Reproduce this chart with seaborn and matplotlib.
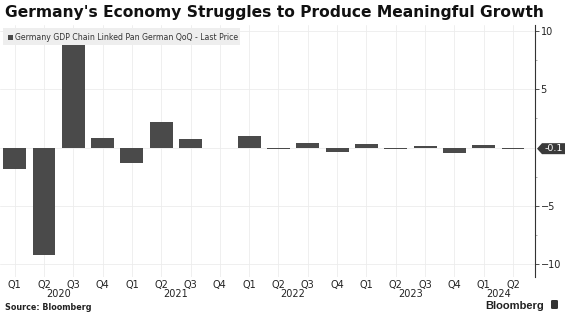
import matplotlib
matplotlib.use("Agg")
import matplotlib.pyplot as plt
import matplotlib.transforms as mtransforms
from matplotlib.patches import FancyBboxPatch, Rectangle, Polygon
import seaborn as sns
import pandas as pd

# Quarterly German GDP growth, chain linked, % QoQ
quarters = ["Q1", "Q2", "Q3", "Q4", "Q1", "Q2", "Q3", "Q4", "Q1", "Q2", "Q3", "Q4",
            "Q1", "Q2", "Q3", "Q4", "Q1", "Q2"]
years = [2020] * 4 + [2021] * 4 + [2022] * 4 + [2023] * 4 + [2024] * 2
gdp_qoq = [-1.8, -9.2, 8.9, 0.8, -1.3, 2.2, 0.7, 0.0, 1.0, -0.1, 0.4, -0.4,
           0.3, -0.1, 0.1, -0.5, 0.2, -0.1]
y_ticks = [-10, -5, 5, 10]
last_value = gdp_qoq[-1]

BAR = "#4a4a4a"
TEXT = "#222222"

df = pd.DataFrame({
    "period": [f"{y}{q}" for y, q in zip(years, quarters)],
    "gdp": gdp_qoq,
})

sns.set_theme(style="white")
plt.rcParams["font.family"] = ["DejaVu Sans"]

W, H = 566, 323
fig = plt.figure(figsize=(W / 100, H / 100), dpi=100)
ax = fig.add_axes([0.0, 1 - 277 / H, 535 / W, (277 - 25) / H])

sns.barplot(data=df, x="period", y="gdp", color=BAR, width=0.78,
            saturation=1, linewidth=0, ax=ax, zorder=3)

ax.set_xlim(-0.5, len(df) - 0.25)
ax.set_ylim(-11.1, 10.5)

# grid
for x in range(len(df)):
    ax.axvline(x, color="#ececec", lw=0.6, zorder=0)
for y in [-10, -5, 0, 5, 10]:
    ax.axhline(y, color="#ececec", lw=0.6, zorder=0)

# spines / ticks
for s in ["left", "top", "bottom"]:
    ax.spines[s].set_visible(False)
ax.spines["right"].set_color("#333333")
ax.spines["right"].set_linewidth(0.8)
ax.yaxis.tick_right()
ax.set_yticks(y_ticks)
ax.set_yticks([-7.5, -2.5, 2.5, 7.5], minor=True)
ax.tick_params(axis="y", which="major", direction="out", length=3, width=0.6,
               color="#333333", labelsize=7, labelcolor=TEXT, pad=1)
ax.tick_params(axis="y", which="minor", direction="out", length=1.5, width=0.5,
               color="#888888")
ax.set_xticks(range(len(df)))
ax.set_xticklabels(quarters)
ax.tick_params(axis="x", length=0, labelsize=7, labelcolor=TEXT, pad=2)
ax.set_xlabel("")
ax.set_ylabel("")

# year labels under the quarters
trans = mtransforms.blended_transform_factory(ax.transData, ax.transAxes)
for yr in sorted(set(years)):
    idx = [i for i, v in enumerate(years) if v == yr]
    ax.text(sum(idx) / len(idx), -17 / 252, str(yr), transform=trans,
            ha="center", va="center", fontsize=7, color=TEXT)

# last value badge on the axis
y_pix = ax.transData.transform((0, last_value))[1]
yc = y_pix / H
x0, x1 = 537 / W, 565 / W
hh = 5.5 / H
tip = 5 / W
fig.patches.append(Polygon([(x0, yc), (x0 + tip, yc + hh), (x1, yc + hh),
                            (x1, yc - hh), (x0 + tip, yc - hh)], closed=True,
                           fc="#3a3a3a", ec="none", transform=fig.transFigure))
fig.text((x0 + tip + x1) / 2, yc, f"{last_value:.1f}", fontsize=6.8, color="white",
         ha="center", va="center")

# legend box
fig.patches.append(FancyBboxPatch((3 / W, 1 - 45 / H), 237 / W, 17 / H,
                                  boxstyle="square,pad=0", fc="#eeeeee", ec="none",
                                  transform=fig.transFigure, zorder=5))
fig.patches.append(Rectangle((8 / W, 1 - 40 / H), 5 / W, 5 / H,
                             fc=BAR, ec="none", transform=fig.transFigure, zorder=6))
fig.text(15 / W, 1 - 37 / H, "Germany GDP Chain Linked Pan German QoQ - Last Price",
         fontsize=5.6, color="#333333", va="center", ha="left", zorder=7)

# title and footer
fig.text(5 / W, 1 - 13 / H, "Germany's Economy Struggles to Produce Meaningful Growth",
         fontsize=11.2, fontweight="bold", color="#111111", va="center", ha="left")
fig.text(5 / W, 1 - 307 / H, "Source: Bloomberg", fontsize=5.8,
         fontweight="bold", color=TEXT, va="center", ha="left")
fig.text(544 / W, 1 - 306 / H, "Bloomberg", fontsize=8, fontweight="bold",
         family=["Liberation Sans"], color=TEXT, va="center", ha="right")
fig.patches.append(FancyBboxPatch((551 / W, 1 - 309 / H), 7 / W, 9 / H,
                                  boxstyle="round,pad=0,rounding_size=0.003",
                                  fc="#333333", ec="none", transform=fig.transFigure))

fig.savefig("out.png", dpi=100, facecolor="white")
